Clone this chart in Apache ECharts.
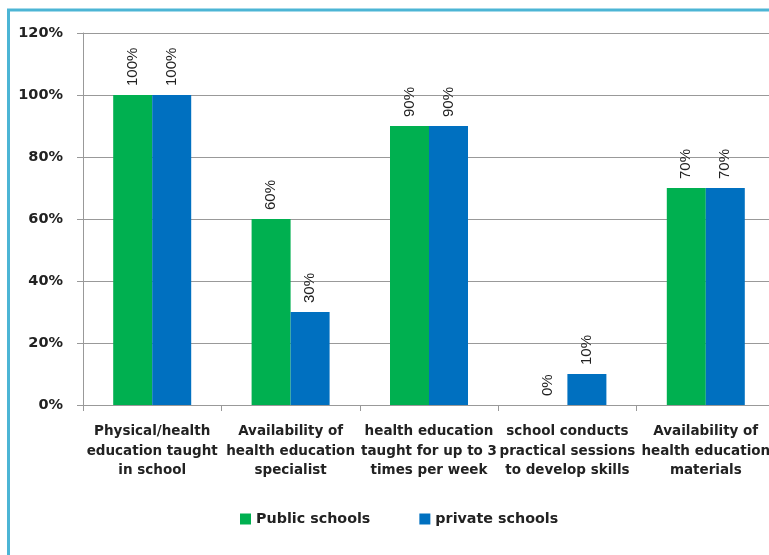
<!DOCTYPE html>
<html>
<head>
<meta charset="utf-8">
<script src="https://cdn.jsdelivr.net/npm/echarts@6/dist/echarts.min.js"></script>
<style>
  html, body { margin: 0; padding: 0; background: #fff; overflow: hidden; }
  #chart { width: 800px; height: 555px; }
</style>
</head>
<body>
<div id="chart"></div>
<script>
// categories and values
var categories = [
  'Physical/health\neducation taught\nin school',
  'Availability of\nhealth education\nspecialist',
  'health education\ntaught for up to 3\ntimes per week',
  'school conducts\npractical sessions\nto develop skills',
  'Availability of\nhealth education\nmaterials'
];
var publicSchools = [100, 60, 90, 0, 70];
var privateSchools = [100, 30, 90, 10, 70];
var yTicks = [0, 20, 40, 60, 80, 100, 120];

var chart = echarts.init(document.getElementById('chart'));

var labelStyle = {
  show: true,
  position: 'top',
  rotate: 90,
  align: 'left',
  verticalAlign: 'middle',
  distance: 9,
  formatter: '{c}%',
  fontFamily: 'Liberation Sans',
  fontSize: 15,
  color: '#222'
};

var option = {
  animation: false,
  graphic: [{
    type: 'rect',
    shape: { x: 8.5, y: 10, width: 820, height: 600 },
    style: { fill: 'none', stroke: '#4cb5d5', lineWidth: 3 }
  }],
  grid: {
    left: 83,
    top: 33,
    width: 692,
    height: 372
  },
  legend: {
    top: 507,
    left: 235,
    itemGap: 49,
    itemWidth: 11,
    itemHeight: 11,
    icon: 'rect',
    textStyle: { fontFamily: 'DejaVu Sans', fontSize: 14.3, fontWeight: 'bold', color: '#222' },
    data: ['Public schools', 'private schools']
  },
  xAxis: {
    type: 'category',
    data: categories,
    axisLine: { lineStyle: { color: '#999' } },
    axisTick: { show: true, length: 6, lineStyle: { color: '#999' } },
    axisLabel: {
      interval: 0,
      margin: 17,
      lineHeight: 19.5,
      fontFamily: 'DejaVu Sans',
      fontSize: 13.5,
      fontWeight: 'bold',
      color: '#222'
    }
  },
  yAxis: {
    type: 'value',
    min: 0,
    max: 120,
    interval: 20,
    axisLine: { show: true, lineStyle: { color: '#999' } },
    axisTick: { show: true, length: 6, lineStyle: { color: '#999' } },
    splitLine: { lineStyle: { color: '#999', width: 1 } },
    axisLabel: {
      margin: 20,
      formatter: function (v) { return yTicks.indexOf(v) >= 0 ? v + '%' : ''; },
      fontFamily: 'DejaVu Sans',
      fontSize: 14.5,
      fontWeight: 'bold',
      color: '#222'
    }
  },
  series: [
    {
      name: 'Public schools',
      type: 'bar',
      data: publicSchools,
      barWidth: 39,
      barGap: '0%',
      itemStyle: { color: '#00b050' },
      label: labelStyle
    },
    {
      name: 'private schools',
      type: 'bar',
      data: privateSchools,
      barWidth: 39,
      barGap: '0%',
      itemStyle: { color: '#0070c0' },
      label: labelStyle
    }
  ]
};

chart.setOption(option);
window.addEventListener('resize', function () { chart.resize(); });
</script>
</body>
</html>
